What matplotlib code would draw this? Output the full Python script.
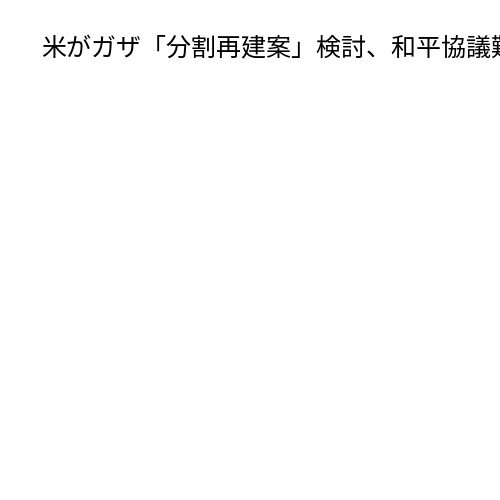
import matplotlib
matplotlib.use('Agg')
import matplotlib.pyplot as plt

plt.rcParams['font.family'] = ['Noto Sans CJK JP', 'DejaVu Sans']

title = '米がガザ「分割再建案」検討、和平協議難航'

fig = plt.figure(figsize=(5, 5), dpi=100)
fig.patch.set_facecolor('white')
# title runs off the right edge like in the original
fig.text(0.082, 0.888, title, fontsize=18, color='black', ha='left', va='baseline')
fig.savefig('out.png', dpi=100, facecolor='white')
